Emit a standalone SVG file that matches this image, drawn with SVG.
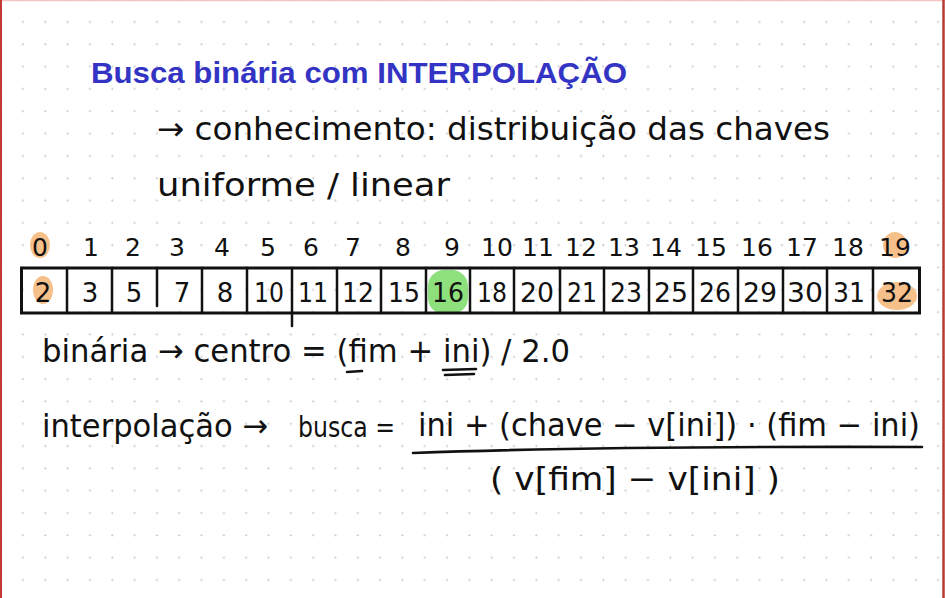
<svg xmlns="http://www.w3.org/2000/svg" width="945" height="598" viewBox="0 0 945 598">
<defs>
<pattern id="dots" x="12" y="11" width="22.32" height="22.32" patternUnits="userSpaceOnUse">
<circle cx="11" cy="11" r="1.1" fill="#c9c9c9"/>
</pattern>
<style>
.hw{font-family:"DejaVu Sans","Noto Sans",sans-serif;fill:#111;}
.idx{font-family:"DejaVu Sans","Noto Sans",sans-serif;font-size:25px;fill:#111;text-anchor:middle;}
.val{font-family:"DejaVu Sans","Noto Sans",sans-serif;font-size:26px;fill:#111;text-anchor:middle;}
.cell{fill:none;stroke:#111;stroke-width:3;}
.div{stroke:#111;stroke-width:2.5;stroke-linecap:round;}
.ink{fill:none;stroke:#111;stroke-width:2.6;stroke-linecap:round;}
.org{fill:#f6c08a;}
</style>
</defs>
<rect width="945" height="598" fill="#ffffff"/>
<rect x="2" y="1" width="941" height="597" fill="url(#dots)"/>
<line x1="0" y1="0.5" x2="945" y2="0.5" stroke="#f2c4c4" stroke-width="1.5"/>
<line x1="1" y1="0" x2="1" y2="598" stroke="#c23a36" stroke-width="2"/>
<line x1="943.5" y1="0" x2="943.5" y2="598" stroke="#b83a34" stroke-width="2.5"/>

<g id="title">
<text x="91" y="83" font-family="Liberation Sans, Arial, sans-serif" font-weight="bold" font-size="30" fill="#3434c4" textLength="536" lengthAdjust="spacingAndGlyphs">Busca binária com INTERPOLAÇÃO</text>
</g>

<g id="notes">
<text class="hw" x="157" y="140" font-size="32" textLength="673" lengthAdjust="spacingAndGlyphs">→ conhecimento: distribuição das chaves</text>
<text class="hw" x="157" y="196" font-size="32" textLength="293" lengthAdjust="spacingAndGlyphs">uniforme / linear</text>
</g>

<g id="highlights">
<ellipse class="org" cx="40" cy="245" rx="10" ry="13"/>
<ellipse class="org" cx="43" cy="290" rx="10" ry="14"/>
<ellipse class="org" cx="895" cy="245" rx="12" ry="13"/>
<ellipse class="org" cx="897" cy="296" rx="20" ry="14"/>
<rect x="428" y="270" width="40" height="44" rx="16" fill="#8ee07c"/>
</g>

<g id="indices">
<text class="idx" x="40" y="256">0</text>
<text class="idx" x="91" y="256">1</text>
<text class="idx" x="133" y="256">2</text>
<text class="idx" x="177" y="256">3</text>
<text class="idx" x="222" y="256">4</text>
<text class="idx" x="268" y="256">5</text>
<text class="idx" x="311" y="256">6</text>
<text class="idx" x="353" y="256">7</text>
<text class="idx" x="403" y="256">8</text>
<text class="idx" x="452" y="256">9</text>
<text class="idx" x="497" y="256">10</text>
<text class="idx" x="538" y="256">11</text>
<text class="idx" x="581" y="256">12</text>
<text class="idx" x="624" y="256">13</text>
<text class="idx" x="666" y="256">14</text>
<text class="idx" x="711" y="256">15</text>
<text class="idx" x="757" y="256">16</text>
<text class="idx" x="802" y="256">17</text>
<text class="idx" x="848" y="256">18</text>
<text class="idx" x="895" y="256">19</text>
</g>

<g id="array">
<rect class="cell" x="21.5" y="268" width="898" height="45"/>
<line class="div" x1="67" y1="268" x2="67" y2="313"/>
<line class="div" x1="112" y1="268" x2="112" y2="313"/>
<line class="div" x1="157" y1="268" x2="157" y2="306"/>
<line class="div" x1="202" y1="268" x2="202" y2="313"/>
<line class="div" x1="247" y1="268" x2="247" y2="313"/>
<line class="div" x1="292" y1="268" x2="292" y2="326"/>
<line class="div" x1="337" y1="268" x2="337" y2="313"/>
<line class="div" x1="381" y1="268" x2="381" y2="313"/>
<line class="div" x1="426" y1="268" x2="426" y2="313"/>
<line class="div" x1="470" y1="268" x2="470" y2="313"/>
<line class="div" x1="514" y1="268" x2="514" y2="313"/>
<line class="div" x1="560" y1="268" x2="560" y2="313"/>
<line class="div" x1="604" y1="268" x2="604" y2="313"/>
<line class="div" x1="649" y1="268" x2="649" y2="313"/>
<line class="div" x1="693" y1="268" x2="693" y2="313"/>
<line class="div" x1="738" y1="268" x2="738" y2="313"/>
<line class="div" x1="783" y1="268" x2="783" y2="313"/>
<line class="div" x1="827" y1="268" x2="827" y2="313"/>
<line class="div" x1="873" y1="268" x2="873" y2="313"/>
<text class="val" x="43" y="302">2</text>
<text class="val" x="90" y="302">3</text>
<text class="val" x="134" y="302">5</text>
<text class="val" x="182" y="302">7</text>
<text class="val" x="225" y="302">8</text>
<text class="val" x="269" y="302" textLength="30" lengthAdjust="spacingAndGlyphs">10</text>
<text class="val" x="313" y="302" textLength="30" lengthAdjust="spacingAndGlyphs">11</text>
<text class="val" x="358" y="302" textLength="32" lengthAdjust="spacingAndGlyphs">12</text>
<text class="val" x="404" y="302" textLength="32" lengthAdjust="spacingAndGlyphs">15</text>
<text class="val" x="448" y="302" textLength="32" lengthAdjust="spacingAndGlyphs">16</text>
<text class="val" x="492" y="302" textLength="30" lengthAdjust="spacingAndGlyphs">18</text>
<text class="val" x="537" y="302" textLength="34" lengthAdjust="spacingAndGlyphs">20</text>
<text class="val" x="582" y="302" textLength="30" lengthAdjust="spacingAndGlyphs">21</text>
<text class="val" x="626" y="302" textLength="32" lengthAdjust="spacingAndGlyphs">23</text>
<text class="val" x="671" y="302" textLength="34" lengthAdjust="spacingAndGlyphs">25</text>
<text class="val" x="715" y="302" textLength="32" lengthAdjust="spacingAndGlyphs">26</text>
<text class="val" x="760" y="302" textLength="34" lengthAdjust="spacingAndGlyphs">29</text>
<text class="val" x="805" y="302" textLength="36" lengthAdjust="spacingAndGlyphs">30</text>
<text class="val" x="849" y="302" textLength="32" lengthAdjust="spacingAndGlyphs">31</text>
<text class="val" x="897" y="302" textLength="32" lengthAdjust="spacingAndGlyphs">32</text>
</g>

<g id="binaria">
<text class="hw" x="42" y="362" font-size="32" textLength="528" lengthAdjust="spacingAndGlyphs">binária → centro = (fim + ini) / 2.0</text>
<path class="ink" d="M347 372 L362 371"/>
<path class="ink" d="M443 370 L476 369 M445 375 L474 374"/>
</g>

<g id="interpolacao">
<text class="hw" x="42" y="437" font-size="32" textLength="226" lengthAdjust="spacingAndGlyphs">interpolação →</text>
<text class="hw" x="298" y="437" font-size="28" textLength="97" lengthAdjust="spacingAndGlyphs">busca =</text>
<text class="hw" x="418" y="436" font-size="32" textLength="502" lengthAdjust="spacingAndGlyphs">ini + (chave − v[ini]) · (fim − ini)</text>
<path class="ink" d="M413 453 Q 600 446 922 447"/>
<text class="hw" x="490" y="490" font-size="32" textLength="290" lengthAdjust="spacingAndGlyphs">( v[fim] − v[ini] )</text>
</g>
</svg>
